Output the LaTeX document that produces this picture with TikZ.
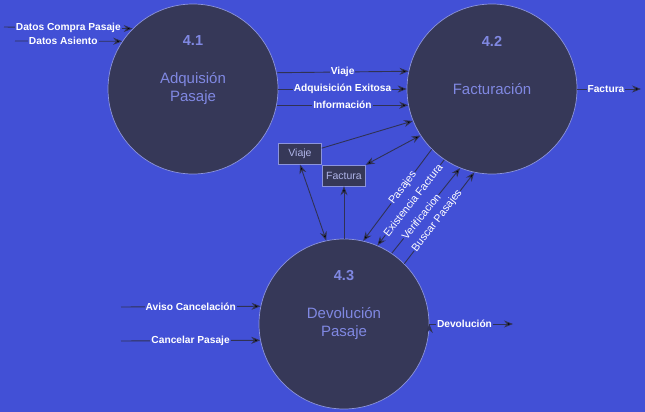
\documentclass[tikz,border=0pt]{standalone}
\usepackage{fontspec}
\setmainfont{Liberation Sans}
\usetikzlibrary{calc}
\usetikzlibrary{positioning}
\usetikzlibrary{arrows.meta}
\definecolor{fondo}{RGB}{66,80,214}
\definecolor{burbuja}{RGB}{54,56,88}
\definecolor{borde}{RGB}{140,148,220}
\definecolor{lila}{RGB}{128,136,226}
\definecolor{cajatxt}{RGB}{175,180,232}
\definecolor{flecha}{RGB}{48,50,84}
\tikzset{>={Stealth[length=9pt,width=7pt]}}
\tikzset{
  proceso/.style={circle,draw=borde,fill=burbuja,minimum size=170pt,inner sep=0pt,
    line width=0.7pt,text=lila,align=center,font=\fontsize{15}{18}\selectfont},
  numero/.style={text=lila,font=\fontsize{14.5}{16}\selectfont\bfseries},
  almacen/.style={draw=borde,fill=burbuja,minimum width=43pt,minimum height=21pt,
    inner sep=0pt,text=cajatxt,font=\fontsize{10.5}{12}\selectfont},
  flujo/.style={draw=flecha,line width=0.9pt},
  etq/.style={fill=fondo,text=white,inner sep=1pt,font=\fontsize{10.2}{12}\selectfont\bfseries},
  etqd/.style={fill=fondo,text=white,inner sep=0.2pt,sloped,font=\fontsize{10.8}{12}\selectfont},
}

\begin{document}
\begin{tikzpicture}[x=1pt,y=-1pt]
            \fill[fondo] (0,0) rectangle (645,412);
            % procesos
            \node[proceso] (p41) at (193,89) {Adquisión\\Pasaje};
            \node[proceso] (p42) at (492,89) {Facturación};
            \node[proceso] (p43) at (344,324) {Devolución\\Pasaje};
            \node[numero] (n41) at ([yshift=48pt]p41.center) {4.1};
            \node[numero] (n42) at ([yshift=48pt]p42.center) {4.2};
            \node[numero] (n43) at ([yshift=48pt]p43.center) {4.3};
            % almacenes
            \node[almacen] (viaje) at (300,154) {Viaje};
            \node[almacen] (factura) at (344,175.5) {Factura};
            % extremos libres
            \coordinate (dcp) at (4,27);
            \coordinate (das) at (15,41);
            \coordinate (fsal) at (641,89);
            \coordinate (avc) at (121,307);
            \coordinate (cnp) at (121,341);
            \coordinate (dev) at (513,324);
            \path[flujo,->]
              (dcp) edge node[etq] {Datos Compra Pasaje} (p41.135.5)
              (das) edge node[etq,pos=0.45] {Datos Asiento} (p41.146)
              (p41.11.5) edge node[etq] {Viaje} (p42.168.5)
              (p41.east) edge node[etq] {Adquisición Exitosa} (p42.west)
              (p41.-11.5) edge node[etq] {Información} (p42.191.5)
              (p42.east) edge node[etq,pos=0.45] {Factura} (fsal)
              (viaje.15) edge (p42.202.4)
              (factura.north east) edge[<->] (p42.213.5)
              (viaje.south) edge[<->] (p43.102.9)
              (p43.north) edge (factura.south)
              (p42.225.5) edge node[etqd,pos=0.42] {Pasajes} (p43.77)
              (p42.236.5) edge node[etqd,pos=0.47] {Existencia Factura} (p43.67)
              (p43.56) edge node[etqd,pos=0.43] {Verificacion} (p42.248.4)
              (p43.45.5) edge node[etqd,pos=0.47] {Buscar Pasajes} (p42.258.6)
              (avc) edge node[etq] {Aviso Cancelación} (p43.168.5)
              (cnp) edge node[etq] {Cancelar Pasaje} (p43.191.5)
              (p43.east) edge node[etq,pos=0.42] {Devolución} (dev);
\end{tikzpicture}
\end{document}
